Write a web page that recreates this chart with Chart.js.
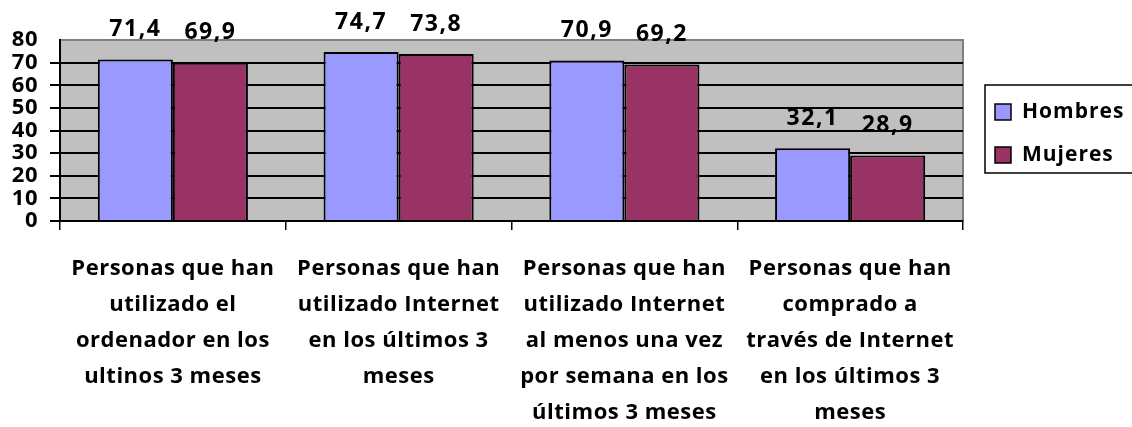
<!DOCTYPE html>
<html>
<head>
<meta charset="utf-8">
<script src="https://cdn.jsdelivr.net/npm/chart.js"></script>
<style>
  html, body { margin: 0; padding: 0; background: #fff; }
  #wrap { width: 1132px; height: 427px; position: relative; }
</style>
</head>
<body>
<div id="wrap"><canvas id="chart"></canvas></div>
<script>
const categories = [
  ["Personas que han", "utilizado el", "ordenador en los", "ultinos 3 meses"],
  ["Personas que han", "utilizado Internet", "en los últimos 3", "meses"],
  ["Personas que han", "utilizado Internet", "al menos una vez", "por semana en los", "últimos 3 meses"],
  ["Personas que han", "comprado a", "través de Internet", "en los últimos 3", "meses"]
];
const hombres = [71.4, 74.7, 70.9, 32.1];
const mujeres = [69.9, 73.8, 69.2, 28.9];
const yTicks = [0, 10, 20, 30, 40, 50, 60, 70, 80];

const FONT = "'Open Sans', 'Noto Sans', sans-serif";

// gray plot background + gray top/right border, and wider letter spacing
const plotBg = {
  id: "plotBg",
  beforeDraw(chart) {
    const { ctx, chartArea: a } = chart;
    ctx.letterSpacing = "0.5px";
    ctx.save();
    ctx.fillStyle = "#c0c0c0";
    ctx.fillRect(a.left, a.top, a.right - a.left, a.bottom - a.top);
    ctx.strokeStyle = "#808080";
    ctx.lineWidth = 2;
    ctx.beginPath();
    ctx.moveTo(a.left, a.top);
    ctx.lineTo(a.right, a.top);
    ctx.lineTo(a.right, a.bottom);
    ctx.stroke();
    ctx.restore();
  }
};

// value labels above each bar
const valueLabels = {
  id: "valueLabels",
  afterDatasetsDraw(chart) {
    const { ctx } = chart;
    ctx.save();
    ctx.font = "bold 23px " + FONT;
    ctx.letterSpacing = "1.5px";
    ctx.fillStyle = "#000";
    ctx.textAlign = "center";
    ctx.textBaseline = "middle";
    chart.data.datasets.forEach((ds, i) => {
      chart.getDatasetMeta(i).data.forEach((bar, j) => {
        ctx.fillText(ds.data[j].toFixed(1).replace(".", ","), bar.x, bar.y - 30);
      });
    });
    ctx.restore();
  }
};

// boxed legend on the right, like the original
const boxLegend = {
  id: "boxLegend",
  afterDraw(chart) {
    const { ctx, chartArea: a } = chart;
    const x = a.right + 22, y = 85, h = 88;
    ctx.save();
    ctx.strokeStyle = "#000";
    ctx.lineWidth = 1.5;
    ctx.strokeRect(x, y, 200, h);
    ctx.font = "bold 21px " + FONT;
    ctx.letterSpacing = "1px";
    ctx.textBaseline = "middle";
    chart.data.datasets.forEach((ds, i) => {
      const cy = y + 27 + i * 43;
      ctx.fillStyle = ds.backgroundColor;
      ctx.fillRect(x + 10, cy - 8, 16, 16);
      ctx.lineWidth = 1.5;
      ctx.strokeRect(x + 10, cy - 8, 16, 16);
      ctx.fillStyle = "#000";
      ctx.fillText(ds.label, x + 37, cy);
    });
    ctx.restore();
  }
};

new Chart(document.getElementById("chart"), {
  type: "bar",
  data: {
    labels: categories,
    datasets: [
      { label: "Hombres", data: hombres, backgroundColor: "#9999ff", borderColor: "#000", borderWidth: 2 },
      { label: "Mujeres", data: mujeres, backgroundColor: "#993366", borderColor: "#000", borderWidth: 2 }
    ]
  },
  options: {
    responsive: true,
    maintainAspectRatio: false,
    animation: false,
    layout: { padding: { top: 40, right: 169, left: 0, bottom: 0 } },
    datasets: { bar: { categoryPercentage: 0.665, barPercentage: 1.0 } },
    plugins: {
      legend: { display: false },
      tooltip: { enabled: false }
    },
    scales: {
      x: {
        offset: true,
        grid: { offset: true, drawOnChartArea: false, drawTicks: true, tickLength: 9, color: "#000", lineWidth: 1.5 },
        border: { color: "#000", width: 2 },
        ticks: {
          maxRotation: 0, autoSkip: false, padding: 21, color: "#000",
          font: { family: FONT, weight: "bold", size: 22, lineHeight: 1.635 }
        },
        afterFit: s => { s.height = 206; }
      },
      y: {
        min: 0, max: 80,
        afterBuildTicks: s => { s.ticks = yTicks.map(v => ({ value: v })); },
        grid: {
          color: c => (c.tick && c.tick.value === 80 ? "rgba(0,0,0,0)" : "#000"),
          lineWidth: 2, tickLength: 10
        },
        border: { color: "#000", width: 2 },
        ticks: {
          autoSkip: false, padding: 12, color: "#000",
          font: { family: FONT, weight: "bold", size: 22, lineHeight: 1 }
        },
        afterFit: s => { s.width = 60; }
      }
    }
  },
  plugins: [plotBg, valueLabels, boxLegend]
});
</script>
</body>
</html>
